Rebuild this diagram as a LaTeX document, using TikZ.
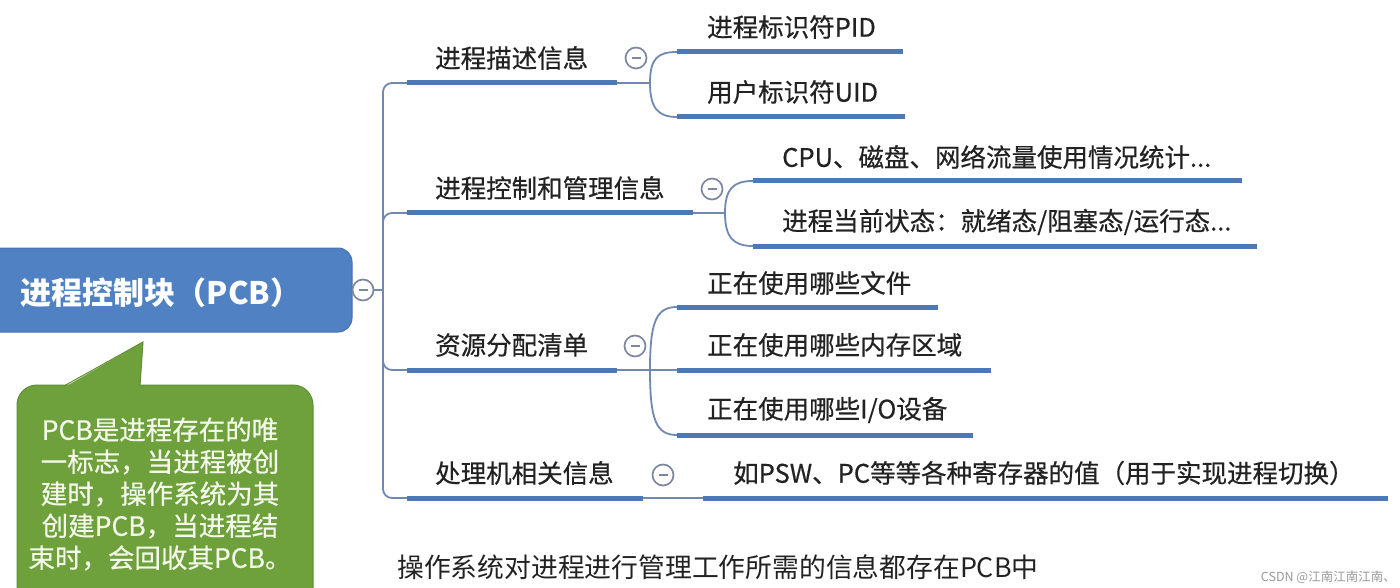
\documentclass[tikz,border=0pt]{standalone}
\usepackage{fontspec}
\setmainfont{Noto Sans CJK SC}
\newfontfamily\medfont[FakeBold=0.5]{Noto Sans CJK SC}
\definecolor{ulblue}{HTML}{4D78B6}
\definecolor{lnblue}{HTML}{7088B2}
\definecolor{circgray}{HTML}{7C87A0}
\definecolor{rootblue}{HTML}{5081C3}
\definecolor{rootedge}{HTML}{4872B0}
\definecolor{calloutgreen}{HTML}{6EA13C}
\definecolor{calloutedge}{HTML}{5F8E32}
\definecolor{callouttext}{HTML}{F3F8EA}
\definecolor{txtgray}{HTML}{222222}
\begin{document}
\begin{tikzpicture}[x=1pt,y=-1pt,
  thickline/.style={draw=ulblue, line width=5pt},
  thinline/.style={draw=lnblue, line width=1.8pt},
  lbl/.style={anchor=west, inner sep=0pt, font=\fontsize{25.5}{30}\medfont, text=txtgray},
  tog/.style={circle, draw=circgray, line width=1.7pt, fill=white, minimum size=21pt, inner sep=0pt,
    path picture={\draw[circgray, line width=1.7pt] ([xshift=-4.5pt]path picture bounding box.center) -- ([xshift=4.5pt]path picture bounding box.center);}},
  rootbox/.style={rectangle, rounded corners=14pt, fill=rootblue, draw=rootedge, line width=1pt, minimum width=372pt, minimum height=84pt, inner sep=0pt},
  roottext/.style={inner sep=0pt, text=white, font=\fontsize{31}{36}\selectfont\bfseries},
]
\clip (0,0) rectangle (1400,588);
\fill[white] (0,0) rectangle (1400,588);

% root
\node[rootbox] (root) at (166,290) {};
\node[roottext] (roottxt) at (161,293) {进程控制块（PCB）};
\node[tog] (rtog) at (363,290) {};

% spine coordinates
\coordinate (sp) at (383,290);
\coordinate (b1s) at (407,83);  \coordinate (b1e) at (617,83);
\coordinate (b2s) at (407,213); \coordinate (b2e) at (693,213);
\coordinate (b3s) at (407,370); \coordinate (b3e) at (617,370);
\coordinate (b4s) at (407,498); \coordinate (b4e) at (643,498);

\draw[thinline] (rtog.east) -- (sp);
\draw[thinline, rounded corners=9pt] (sp) |- (b1s);
\draw[thinline, rounded corners=9pt] (sp) |- (b2s);
\draw[thinline, rounded corners=9pt] (sp) |- (b3s);
\draw[thinline, rounded corners=9pt] (sp) |- (b4s);

% branch labels and underlines
\node[lbl] (b1) at (435,58) {进程描述信息};
\node[lbl] (b2) at (435,188) {进程控制和管理信息};
\node[lbl] (b3) at (435,345) {资源分配清单};
\node[lbl] (b4) at (435,473) {处理机相关信息};
\draw[thickline] (b1s) -- (b1e);
\draw[thickline] (b2s) -- (b2e);
\draw[thickline] (b3s) -- (b3e);
\draw[thickline] (b4s) -- (b4e);

% forks
\coordinate (f1) at (650,83);
\coordinate (f2) at (725,213);
\coordinate (f3) at (650,370);

% children underline coordinates
\coordinate (c11s) at (677,52);  \coordinate (c11e) at (903,52);
\coordinate (c12s) at (677,117); \coordinate (c12e) at (905,117);
\coordinate (c21s) at (753,181); \coordinate (c21e) at (1242,181);
\coordinate (c22s) at (753,246); \coordinate (c22e) at (1257,246);
\coordinate (c31s) at (677,307); \coordinate (c31e) at (938,307);
\coordinate (c32s) at (677,370); \coordinate (c32e) at (991,370);
\coordinate (c33s) at (677,435); \coordinate (c33e) at (973,435);
\coordinate (c41s) at (703,498); \coordinate (c41e) at (1388,498);

% connectors branch -> children
\draw[thinline] (b1e) -- (f1);
\draw[thinline] (f1) .. controls (650,58) and (658,52) .. (c11s);
\draw[thinline] (f1) .. controls (650,108) and (658,117) .. (c12s);
\draw[thinline] (b2e) -- (f2);
\draw[thinline] (f2) .. controls (725,189) and (733,181) .. (c21s);
\draw[thinline] (f2) .. controls (725,237) and (733,246) .. (c22s);
\draw[thinline] (b3e) -- (c32s);
\draw[thinline] (f3) .. controls (650,322) and (656,307) .. (c31s);
\draw[thinline] (f3) .. controls (650,420) and (656,435) .. (c33s);
\draw[thinline] (b4e) -- (c41s);

% toggles
\node[tog] (t1) at (636,58) {};
\node[tog] (t2) at (712,189) {};
\node[tog] (t3) at (635,346) {};
\node[tog] (t4) at (663,475) {};

% children labels and underlines
\node[lbl] (c11) at (707,27) {进程标识符PID};
\node[lbl] (c12) at (707,92) {用户标识符UID};
\node[lbl] (c21) at (782,157) {CPU、磁盘、网络流量使用情况统计...};
\node[lbl] (c22) at (782,222) {进程当前状态：就绪态/阻塞态/运行态...};
\node[lbl] (c31) at (707,283) {正在使用哪些文件};
\node[lbl] (c32) at (707,345) {正在使用哪些内存区域};
\node[lbl] (c33) at (707,410) {正在使用哪些I/O设备};
\node[lbl] (c41) at (733,473) {如PSW、PC等等各种寄存器的值（用于实现进程切换）};
\draw[thickline] (c11s) -- (c11e);
\draw[thickline] (c12s) -- (c12e);
\draw[thickline] (c21s) -- (c21e);
\draw[thickline] (c22s) -- (c22e);
\draw[thickline] (c31s) -- (c31e);
\draw[thickline] (c32s) -- (c32e);
\draw[thickline] (c33s) -- (c33e);
\draw[thickline] (c41s) -- (c41e);

% callout
\draw[fill=calloutgreen, draw=calloutedge, line width=1pt, rounded corners=20pt] (17,385) rectangle (313,640);
\fill[calloutgreen] (64,387.5) -- (143,342) -- (140,387.5) -- cycle;
\draw[calloutedge, line width=1pt] (64,386) -- (143,342) -- (140,386);
\node[inner sep=0pt, align=center, text=callouttext, font=\fontsize{26.5}{32}\medfont] (note) at (160,494)
  {PCB是进程存在的唯\\一标志，当进程被创\\建时，操作系统为其\\创建PCB，当进程结\\束时，会回收其PCB。};

% bottom text and watermark
\node[inner sep=0pt, anchor=west, text=txtgray, font=\fontsize{26.8}{30}\selectfont] (bottom) at (397,567) {操作系统对进程进行管理工作所需的信息都存在PCB中};
\node[inner sep=0pt, anchor=east, text=black!40, font=\fontsize{12.5}{14}\selectfont] (wm) at (1396,577) {CSDN @江南江南江南、};
\end{tikzpicture}
\end{document}
